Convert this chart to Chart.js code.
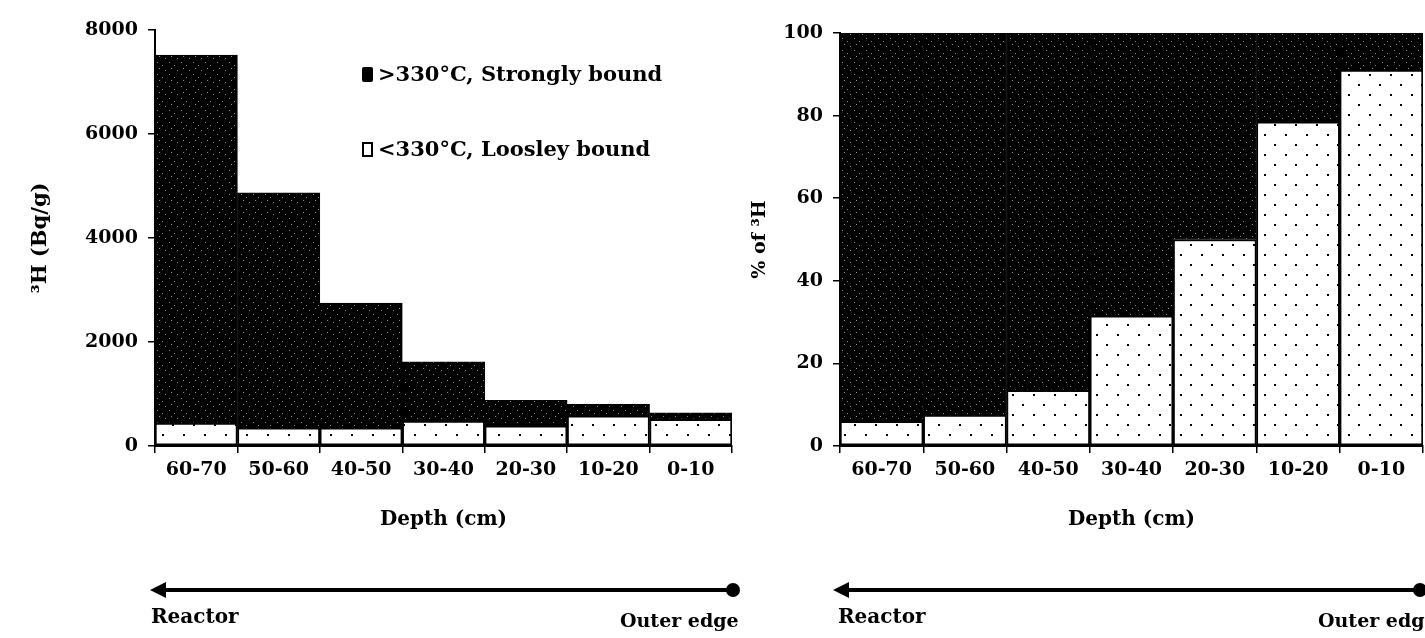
<!DOCTYPE html>
<html lang="en">
<head>
    <meta charset="UTF-8">
    <title>Tritium by depth</title>
    <script src="https://cdn.jsdelivr.net/npm/chart.js"></script>
    <style>
        body { margin: 0; background: #fff; width: 1425px; height: 638px; position: relative; overflow: hidden; }
        canvas { position: absolute; top: 0; }
        .txt { position: absolute; font-family: "DejaVu Serif", serif; font-weight: bold; color: #000; white-space: nowrap; }
        .sw { position: absolute; box-sizing: border-box; }
        svg { position: absolute; left: 0; top: 0; }
    </style>
</head>
<body>

<canvas id="bqChart" width="745" height="540" style="left:0"></canvas>
<canvas id="pctChart" width="680" height="540" style="left:745px"></canvas>

<!-- legend inside the left chart -->
<div class="sw" style="left:362px;top:67px;width:11px;height:15px;background:#000;border-radius:2px"></div>
<div class="txt" style="left:378px;top:61px;font-size:21px">&gt;330°C, Strongly bound</div>
<div class="sw" style="left:362px;top:142px;width:11px;height:15px;background:#fff;border:2px solid #000"></div>
<div class="txt" style="left:378px;top:136px;font-size:21px">&lt;330°C, Loosley bound</div>

<!-- direction arrows -->
<svg width="1425" height="638">
    <line x1="162" y1="590" x2="733" y2="590" stroke="#000" stroke-width="4"/>
    <polygon points="150,590 166,582 166,598" fill="#000"/>
    <circle cx="733" cy="590" r="7" fill="#000"/>
    <line x1="845" y1="590" x2="1420" y2="590" stroke="#000" stroke-width="4"/>
    <polygon points="833,590 849,582 849,598" fill="#000"/>
    <circle cx="1420" cy="590" r="7" fill="#000"/>
</svg>
<div class="txt" style="left:151px;top:604px;font-size:20px">Reactor</div>
<div class="txt" style="left:620px;top:609px;font-size:19px">Outer edge</div>
<div class="txt" style="left:838px;top:604px;font-size:20px">Reactor</div>
<div class="txt" style="left:1318px;top:609px;font-size:19px">Outer edge</div>

<script>
    const categories = ["60-70", "50-60", "40-50", "30-40", "20-30", "10-20", "0-10"];
    // Bq/g
    const looseBq = [440, 350, 350, 480, 390, 580, 515];
    const strongBq = [7080, 4520, 2400, 1140, 490, 220, 125];
    // % of 3H
    const loosePct = [6, 7.5, 13.5, 31.5, 50, 78.5, 91];
    const strongPct = [94, 92.5, 86.5, 68.5, 50, 21.5, 9];
    const bqTicks = [0, 2000, 4000, 6000, 8000];
    const pctTicks = [0, 20, 40, 60, 80, 100];

    const FONT = "'DejaVu Serif', serif";

    function dotPattern() {
        const c = document.createElement("canvas");
        c.width = 21; c.height = 20;
        const g = c.getContext("2d");
        g.fillStyle = "#fff";
        g.fillRect(0, 0, 21, 20);
        g.fillStyle = "#000";
        g.fillRect(4, 4, 2, 2);
        g.fillRect(15, 14, 2, 2);
        return g.createPattern(c, "repeat");
    }

    function darkPattern() {
        const c = document.createElement("canvas");
        c.width = 12; c.height = 12;
        const g = c.getContext("2d");
        g.fillStyle = "#000";
        g.fillRect(0, 0, 12, 12);
        g.fillStyle = "#8a8a8a";
        [[1, 2], [6, 5], [9, 10], [3, 8]].forEach(([x, y]) => g.fillRect(x, y, 1, 1));
        return g.createPattern(c, "repeat");
    }

    function makeChart(id, loose, strong, ticks, max, yTitle, sizes) {
        new Chart(document.getElementById(id), {
            type: "bar",
            data: {
                labels: categories,
                datasets: [
                    { label: "<330°C, Loosley bound", data: loose, backgroundColor: dotPattern(),
                      borderColor: "#000", borderWidth: 2, borderSkipped: false },
                    { label: ">330°C, Strongly bound", data: strong, backgroundColor: darkPattern(),
                      borderColor: "#000", borderWidth: 1, borderSkipped: false }
                ]
            },
            options: {
                responsive: false,
                animation: false,
                layout: { padding: { left: 0, right: sizes.right, top: sizes.top, bottom: 0 } },
                datasets: { bar: { barPercentage: 1, categoryPercentage: 1 } },
                plugins: { legend: { display: false }, tooltip: { enabled: false } },
                scales: {
                    x: {
                        stacked: true,
                        afterFit: (s) => { s.height = sizes.xHeight; },
                        grid: { drawOnChartArea: false, color: "#000", lineWidth: 1.5, tickLength: 7 },
                        border: { color: "#000", width: 2 },
                        ticks: { color: "#000", padding: 6, font: { family: FONT, weight: "bold", size: 19 } },
                        title: { display: true, text: "Depth (cm)", color: "#000", padding: { top: 0, bottom: 8 },
                                 font: { family: FONT, weight: "bold", size: 20 } }
                    },
                    y: {
                        stacked: true,
                        min: 0,
                        max: max,
                        afterFit: (s) => { s.width = sizes.yWidth; },
                        afterBuildTicks: (s) => { s.ticks = ticks.map(v => ({ value: v })); },
                        grid: { drawOnChartArea: false, color: "#000", lineWidth: 1.5, tickLength: 7 },
                        border: { color: "#000", width: 2 },
                        ticks: { color: "#000", padding: 10, callback: (v) => String(v),
                                 font: { family: FONT, weight: "bold", size: 19 } },
                        title: { display: true, text: yTitle, color: "#000", padding: { top: sizes.titlePad, bottom: 0 },
                                 font: { family: FONT, weight: "bold", size: sizes.titleSize } }
                    }
                }
            }
        });
    }

    makeChart("bqChart", looseBq, strongBq, bqTicks, 8000, "³H (Bq/g)",
        { right: 13, top: 30, xHeight: 94, yWidth: 155, titlePad: 28, titleSize: 21 });
    makeChart("pctChart", loosePct, strongPct, pctTicks, 100, "% of ³H",
        { right: 2, top: 33, xHeight: 94, yWidth: 95, titlePad: 4, titleSize: 19 });
</script>

</body>
</html>
